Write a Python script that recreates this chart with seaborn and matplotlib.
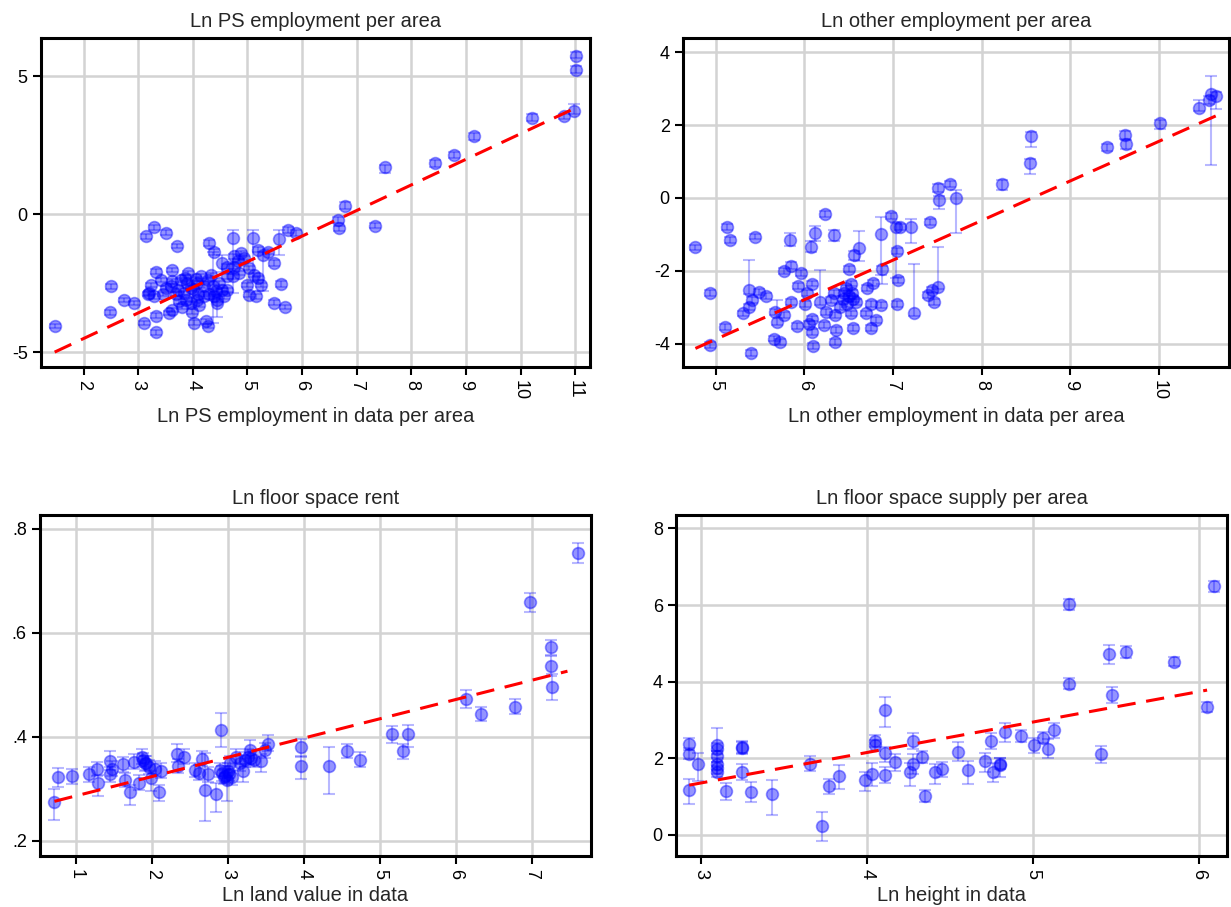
import matplotlib
matplotlib.use("Agg")
import matplotlib.pyplot as plt
import seaborn as sns
import numpy as np

sns.set_style("white")
plt.rcParams['font.family'] = ['Liberation Sans', 'DejaVu Sans']
plt.rcParams['axes.unicode_minus'] = False

# ---------------- Panel 1: Ln PS employment per area ----------------
p1_x = [1.47, 2.51, 2.49, 2.74, 2.92, 3.10, 3.33, 3.32, 3.15, 3.28, 3.51, 3.71, 4.29, 4.39,
        4.74, 5.11, 5.57, 5.74, 5.89, 5.37, 5.48, 5.61, 5.49, 5.68, 6.66, 6.67, 6.79, 7.34,
        7.52, 8.44, 8.78, 9.14, 10.21, 10.80, 10.97, 11.02, 11.02,
        3.33, 3.62, 3.92, 3.23, 3.41, 3.20, 3.29, 3.50, 3.62, 3.78, 3.72, 3.84, 3.96, 4.08,
        4.15, 4.27, 4.36, 4.42, 4.48, 4.54, 4.33, 4.21, 4.08, 3.96, 3.87, 3.75, 3.62, 3.56,
        3.81, 3.99, 4.02, 4.24, 4.27, 4.45, 4.39, 4.57, 4.63,
        4.54, 4.63, 4.76, 4.88, 4.94, 4.82, 4.76, 4.73, 4.63, 4.85, 5.03, 5.12, 5.19, 5.25,
        5.00, 5.03, 5.15, 5.28, 5.19,
        3.90, 4.00, 4.10, 4.20, 3.85, 4.05, 4.30, 4.45, 3.70, 3.60, 4.12, 3.45, 3.18]
p1_y = [-4.06, -2.62, -3.56, -3.11, -3.23, -3.94, -4.29, -3.68, -0.81, -0.48, -0.67, -1.16, -1.05, -1.38,
        -0.87, -0.87, -0.91, -0.57, -0.69, -1.36, -1.78, -2.54, -3.21, -3.36, -0.21, -0.52, 0.30, -0.42,
        1.69, 1.84, 2.14, 2.83, 3.49, 3.54, 3.74, 5.23, 5.74,
        -2.08, -2.02, -2.14, -2.56, -2.38, -2.86, -2.98, -2.68, -2.44, -2.38, -2.74, -2.86, -2.68, -2.50,
        -2.26, -2.38, -2.62, -2.80, -2.50, -2.74, -2.20, -2.98, -3.10, -3.22, -3.10, -3.16, -3.47, -3.59,
        -3.35, -3.53, -3.93, -3.89, -4.05, -3.22, -2.98, -2.98, -2.74,
        -1.78, -1.90, -1.53, -1.41, -1.59, -1.71, -1.90, -2.26, -2.26, -2.14, -1.96, -2.20, -2.32, -2.56,
        -2.56, -2.92, -2.98, -1.47, -1.29,
        -2.50, -2.70, -2.90, -2.60, -2.30, -2.35, -2.90, -3.10, -2.90, -2.60, -3.30, -2.90, -2.90]
p1_lo = [0.08, 0.08, 0.08, 0.08, 0.08, 0.08, 0.08, 0.08, 0.08, 0.08, 0.08, 0.08, 0.10, 0.10,
         2.00, 1.60, 0.56, 0.10, 0.10, 0.10, 0.10, 0.10, 0.08, 0.08, 0.10, 0.10, 0.10, 0.08,
         0.20, 0.12, 0.12, 0.15, 0.12, 0.10, 0.10, 0.10, 0.10,
         0.08, 0.08, 0.08, 0.08, 0.08, 0.08, 0.08, 0.08, 0.08, 0.08, 0.08, 0.08, 0.08, 0.08,
         0.08, 0.08, 1.33, 0.08, 0.08, 0.08, 0.08, 0.08, 0.08, 0.08, 0.08, 0.08, 0.08, 0.08,
         0.08, 0.08, 0.08, 0.08, 0.08, 0.50, 0.08, 0.08, 0.08,
         0.30, 0.08, 0.08, 0.08, 0.08, 0.08, 0.08, 0.08, 0.08, 0.08, 0.08, 0.08, 0.08, 0.08,
         0.08, 0.08, 0.08, 1.30, 0.08,
         0.08, 0.08, 0.08, 0.08, 0.08, 0.08, 0.08, 0.08, 0.08, 0.08, 0.08, 0.08, 0.08]
p1_hi = [0.08, 0.08, 0.08, 0.08, 0.08, 0.08, 0.08, 0.08, 0.08, 0.08, 0.08, 0.08, 0.10, 0.10,
         0.28, 0.30, 0.34, 0.10, 0.10, 0.10, 0.10, 0.10, 0.08, 0.08, 0.10, 0.10, 0.15, 0.08,
         0.10, 0.12, 0.12, 0.12, 0.12, 0.10, 0.25, 0.15, 0.15,
         0.08, 0.08, 0.08, 0.08, 0.08, 0.08, 0.08, 0.08, 0.08, 0.08, 0.08, 0.08, 0.08, 0.08,
         0.08, 0.08, 1.24, 0.08, 0.08, 0.08, 0.08, 0.08, 0.08, 0.08, 0.08, 0.08, 0.08, 0.08,
         0.08, 0.08, 0.08, 0.08, 0.08, 0.30, 0.08, 0.08, 0.08,
         0.30, 0.08, 0.08, 0.08, 0.08, 0.08, 0.08, 0.08, 0.08, 0.08, 0.08, 0.08, 0.08, 0.08,
         0.08, 0.08, 0.08, 0.10, 0.08,
         0.08, 0.08, 0.08, 0.08, 0.08, 0.08, 0.08, 0.08, 0.08, 0.08, 0.08, 0.08, 0.08]
p1_fit_x = [1.47, 11.02]
p1_fit_y = [-5.00, 3.86]

# ---------------- Panel 2: Ln other employment per area ----------------
p2_x = [4.77, 4.94, 4.94, 5.10, 5.13, 5.16, 5.44, 5.40, 5.31, 5.37, 5.38, 5.41, 5.49, 5.57,
        5.67, 5.69, 5.66, 5.72, 5.77, 5.77, 5.85, 5.85, 5.84, 5.92, 5.96, 5.93, 6.03, 6.01,
        6.08, 6.07, 6.12, 6.05, 6.08, 6.10, 6.09, 6.17, 6.23, 6.22, 6.24, 6.33, 6.33, 6.35,
        6.36, 6.35, 6.30, 6.43, 6.47, 6.50, 6.52, 6.54, 6.55, 6.56, 6.62, 6.52, 6.58, 6.69,
        6.71, 6.75, 6.77, 6.75, 6.81, 6.86, 6.88, 6.86, 6.98, 7.03, 7.08, 7.04, 7.05, 7.04,
        7.20, 7.24, 7.42, 7.39, 7.44, 7.51, 7.46, 7.51, 7.52, 7.64, 7.71, 8.23, 8.55, 8.56,
        9.41, 9.62, 9.63, 10.01, 10.45, 10.56, 10.59, 10.64,
        6.45, 6.50, 6.48, 6.40, 6.55]
p2_y = [-1.36, -2.60, -4.04, -3.54, -0.80, -1.15, -1.06, -4.25, -3.17, -2.99, -2.53, -2.80, -2.58, -2.69,
        -3.13, -3.40, -3.86, -3.95, -3.22, -2.00, -1.86, -2.85, -1.15, -3.52, -2.07, -2.42, -2.62, -2.90,
        -2.35, -1.34, -0.97, -3.45, -3.68, -4.07, -3.31, -2.85, -0.45, -3.49, -3.13, -1.02, -2.62, -3.22,
        -3.63, -3.95, -2.80, -2.76, -2.48, -1.96, -2.35, -2.62, -3.56, -1.57, -1.38, -3.17, -2.85, -3.17,
        -2.48, -2.90, -2.33, -3.58, -3.35, -2.94, -1.96, -0.99, -0.49, -0.79, -0.79, -1.45, -2.25, -2.92,
        -0.79, -3.15, -0.65, -2.67, -2.53, -2.44, -2.85, 0.27, -0.06, 0.38, 0.00, 0.38, 0.97, 1.70,
        1.39, 1.73, 1.48, 2.05, 2.48, 2.69, 2.86, 2.80,
        -2.62, -2.70, -2.90, -3.00, -2.78]
p2_lo = [0.08, 0.08, 0.08, 0.08, 0.08, 0.08, 0.08, 0.08, 0.08, 0.08, 0.10, 0.08, 0.08, 0.08,
         0.08, 0.10, 0.08, 0.08, 0.08, 0.08, 0.10, 0.08, 0.18, 0.08, 0.08, 0.08, 0.08, 0.08,
         0.08, 0.15, 0.20, 0.08, 0.08, 0.08, 0.08, 0.10, 0.08, 0.08, 0.08, 0.15, 0.08, 0.08,
         0.08, 0.08, 0.08, 0.08, 0.08, 0.08, 0.08, 0.08, 0.08, 0.12, 0.35, 0.08, 0.08, 0.08,
         0.08, 0.08, 0.08, 0.08, 0.08, 0.08, 0.40, 1.13, 0.08, 1.40, 0.08, 0.08, 0.08, 0.08,
         0.45, 0.10, 0.08, 0.08, 0.08, 0.05, 0.08, 0.10, 0.25, 0.08, 0.96, 0.15, 0.30, 0.30,
         0.10, 0.10, 0.15, 0.15, 0.10, 0.10, 1.95, 0.35,
         0.08, 0.08, 0.08, 0.08, 0.08]
p2_hi = [0.08, 0.08, 0.08, 0.08, 0.08, 0.08, 0.08, 0.08, 0.08, 0.08, 0.84, 0.08, 0.08, 0.08,
         0.08, 0.60, 0.08, 0.08, 0.08, 0.08, 0.10, 0.08, 0.18, 0.08, 0.08, 0.08, 0.08, 0.08,
         0.08, 0.15, 0.20, 0.08, 0.08, 0.08, 0.08, 0.88, 0.08, 0.08, 0.08, 0.15, 0.08, 0.08,
         0.08, 0.08, 0.08, 0.08, 0.08, 0.08, 0.08, 0.08, 0.08, 0.12, 0.48, 0.08, 0.08, 0.08,
         0.08, 0.08, 0.08, 0.08, 0.08, 0.08, 0.10, 0.48, 0.08, 0.10, 0.08, 0.08, 0.08, 0.08,
         0.20, 1.35, 0.08, 0.08, 0.08, 1.10, 0.08, 0.10, 0.10, 0.08, 0.22, 0.10, 0.10, 0.10,
         0.10, 0.10, 0.10, 0.10, 0.20, 0.10, 0.48, 0.10,
         0.08, 0.08, 0.08, 0.08, 0.08]
p2_fit_x = [4.77, 10.64]
p2_fit_y = [-4.13, 2.25]

# ---------------- Panel 3: Ln floor space rent ----------------
p3_x = [0.71, 0.76, 0.94, 1.16, 1.27, 1.28, 1.44, 1.47, 1.44, 1.61, 1.64, 1.70, 1.76, 1.82,
        1.87, 1.90, 1.95, 1.98, 2.03, 2.12, 2.09, 2.32, 2.34, 2.42, 2.56, 2.61, 2.66, 2.69,
        2.74, 2.84, 2.89, 2.91, 2.94, 2.99, 3.01, 3.03, 3.10, 3.16, 3.20, 3.26, 3.29, 3.34,
        3.43, 3.49, 3.53, 3.96, 3.96, 4.33, 4.56, 4.74, 5.16, 5.30, 5.37, 6.13, 6.33, 6.78,
        6.98, 7.25, 7.25, 7.26, 7.61,
        2.92, 2.96, 3.00, 3.05, 1.88, 1.92, 3.30, 3.22]
p3_y = [0.275, 0.322, 0.324, 0.328, 0.338, 0.312, 0.354, 0.339, 0.328, 0.347, 0.317, 0.294, 0.352, 0.312,
        0.362, 0.349, 0.342, 0.320, 0.339, 0.335, 0.293, 0.366, 0.344, 0.362, 0.336, 0.331, 0.358, 0.297,
        0.328, 0.291, 0.336, 0.413, 0.323, 0.317, 0.329, 0.349, 0.362, 0.349, 0.334, 0.362, 0.374, 0.356,
        0.353, 0.374, 0.386, 0.381, 0.344, 0.344, 0.373, 0.356, 0.406, 0.372, 0.406, 0.472, 0.444, 0.458,
        0.658, 0.572, 0.536, 0.496, 0.753,
        0.330, 0.325, 0.335, 0.322, 0.355, 0.350, 0.360, 0.356]
p3_lo = [0.035, 0.018, 0.014, 0.014, 0.014, 0.025, 0.018, 0.014, 0.014, 0.014, 0.014, 0.025, 0.014, 0.014,
         0.014, 0.014, 0.014, 0.025, 0.014, 0.014, 0.017, 0.014, 0.014, 0.014, 0.014, 0.014, 0.014, 0.059,
         0.014, 0.035, 0.014, 0.033, 0.014, 0.040, 0.014, 0.014, 0.014, 0.014, 0.020, 0.014, 0.014, 0.014,
         0.020, 0.014, 0.014, 0.020, 0.025, 0.054, 0.014, 0.014, 0.017, 0.014, 0.025, 0.017, 0.014, 0.014,
         0.018, 0.014, 0.020, 0.026, 0.020,
         0.014, 0.014, 0.014, 0.014, 0.014, 0.014, 0.014, 0.014]
p3_hi = [0.025, 0.018, 0.014, 0.014, 0.014, 0.014, 0.018, 0.014, 0.014, 0.014, 0.014, 0.014, 0.014, 0.014,
         0.014, 0.014, 0.014, 0.014, 0.014, 0.014, 0.014, 0.020, 0.014, 0.014, 0.014, 0.014, 0.014, 0.072,
         0.014, 0.020, 0.014, 0.033, 0.014, 0.014, 0.014, 0.014, 0.014, 0.014, 0.014, 0.014, 0.020, 0.014,
         0.014, 0.014, 0.018, 0.014, 0.020, 0.036, 0.014, 0.014, 0.014, 0.014, 0.017, 0.017, 0.014, 0.014,
         0.018, 0.014, 0.020, 0.025, 0.020,
         0.014, 0.014, 0.014, 0.014, 0.014, 0.014, 0.014, 0.014]
p3_fit_x = [0.71, 7.47]
p3_fit_y = [0.276, 0.526]

# ---------------- Panel 4: Ln floor space supply per area ----------------
p4_x = [2.93, 2.93, 2.93, 2.98, 3.10, 3.10, 3.10, 3.10, 3.10, 3.10, 3.15, 3.25, 3.25, 3.25,
        3.30, 3.43, 3.66, 3.73, 3.77, 3.83, 3.99, 4.03, 4.05, 4.05, 4.11, 4.11, 4.11, 4.17,
        4.26, 4.28, 4.28, 4.33, 4.35, 4.41, 4.45, 4.55, 4.61, 4.71, 4.75, 4.76, 4.80, 4.80,
        4.83, 4.93, 5.01, 5.06, 5.09, 5.13, 5.22, 5.22, 5.41, 5.46, 5.48, 5.56, 5.85, 6.05,
        6.09]
p4_y = [2.37, 2.12, 1.17, 1.86, 2.35, 2.25, 2.05, 1.85, 1.75, 1.65, 1.14, 2.27, 2.30, 1.64,
        1.12, 1.06, 1.86, 0.23, 1.27, 1.54, 1.44, 1.58, 2.45, 2.34, 3.27, 2.15, 1.56, 1.91,
        1.63, 1.85, 2.45, 2.04, 1.01, 1.64, 1.71, 2.17, 1.69, 1.93, 2.45, 1.64, 1.82, 1.86,
        2.68, 2.58, 2.34, 2.54, 2.25, 2.73, 3.95, 6.02, 2.11, 4.72, 3.65, 4.78, 4.52, 3.34,
        6.49]
p4_lo = [0.15, 0.15, 0.37, 0.45, 0.15, 0.15, 0.15, 0.15, 0.15, 0.15, 0.22, 0.15, 0.15, 0.20,
         0.25, 0.54, 0.20, 0.38, 0.20, 0.35, 0.30, 0.30, 0.15, 0.15, 0.45, 0.25, 0.20, 0.25,
         0.35, 0.25, 0.20, 0.15, 0.15, 0.30, 0.20, 0.25, 0.35, 0.30, 0.20, 0.25, 0.30, 0.15,
         0.25, 0.15, 0.20, 0.15, 0.25, 0.20, 0.15, 0.15, 0.22, 0.25, 0.20, 0.15, 0.12, 0.12,
         0.15]
p4_hi = [0.15, 0.15, 0.28, 0.28, 0.45, 0.15, 0.15, 0.15, 0.15, 0.15, 0.22, 0.15, 0.15, 0.20,
         0.25, 0.37, 0.20, 0.38, 0.20, 0.28, 0.20, 0.30, 0.15, 0.15, 0.33, 0.15, 0.20, 0.20,
         0.25, 0.25, 0.20, 0.15, 0.15, 0.20, 0.20, 0.25, 0.25, 0.20, 0.20, 0.25, 0.20, 0.15,
         0.25, 0.15, 0.20, 0.15, 0.25, 0.20, 0.15, 0.15, 0.22, 0.25, 0.20, 0.15, 0.12, 0.12,
         0.15]
p4_fit_x = [2.93, 6.05]
p4_fit_y = [1.30, 3.78]

titles = ["Ln PS employment per area", "Ln other employment per area",
          "Ln floor space rent", "Ln floor space supply per area"]
xlabels = ["Ln PS employment in data per area", "Ln other employment in data per area",
           "Ln land value in data", "Ln height in data"]
p1_xticks = [2, 3, 4, 5, 6, 7, 8, 9, 10, 11]
p1_yticks = [-5, 0, 5]
p2_xticks = [5, 6, 7, 8, 9, 10]
p2_yticks = [-4, -2, 0, 2, 4]
p3_xticks = [1, 2, 3, 4, 5, 6, 7]
p3_yticks = [0.2, 0.4, 0.6, 0.8]
p3_yticklabels = [".2", ".4", ".6", ".8"]
p4_xticks = [3, 4, 5, 6]
p4_yticks = [0, 2, 4, 6, 8]

W, H = 1231, 907
fig = plt.figure(figsize=(W / 100, H / 100), dpi=100)

def box(l, r, t, b):
    return [l / W, 1 - b / H, (r - l) / W, (b - t) / H]

axes_pos = [box(41, 590, 38, 367), box(683, 1229, 38, 367),
            box(40, 591, 515, 856), box(676, 1227, 515, 856)]

panels = [
    (p1_x, p1_y, p1_lo, p1_hi, p1_fit_x, p1_fit_y, (1.22, 11.27), (-5.54, 6.38), p1_xticks, p1_yticks, None),
    (p2_x, p2_y, p2_lo, p2_hi, p2_fit_x, p2_fit_y, (4.63, 10.79), (-4.64, 4.39), p2_xticks, p2_yticks, None),
    (p3_x, p3_y, p3_lo, p3_hi, p3_fit_x, p3_fit_y, (0.52, 7.78), (0.171, 0.826), p3_xticks, p3_yticks, p3_yticklabels),
    (p4_x, p4_y, p4_lo, p4_hi, p4_fit_x, p4_fit_y, (2.85, 6.17), (-0.55, 8.35), p4_xticks, p4_yticks, None),
]

for i, (x, y, lo, hi, fx, fy, xl, yl, xt, yt, ytl) in enumerate(panels):
    ax = fig.add_axes(axes_pos[i])
    ax.set_axisbelow(True)
    ax.grid(True, color="#d3d3d3", linewidth=1.8)
    ax.errorbar(x, y, yerr=[lo, hi], fmt="none", ecolor=(0, 0, 1, 0.28),
                elinewidth=1.5, capsize=4, capthick=1.5, zorder=2)
    sns.scatterplot(x=x, y=y, ax=ax, s=72, color="blue", alpha=0.42,
                    edgecolor="blue", linewidth=1.2, zorder=3, legend=False)
    ax.plot(fx, fy, color="red", linewidth=2.2, dashes=(6, 3.5), zorder=4)
    ax.set_xlim(*xl)
    ax.set_ylim(*yl)
    ax.set_xticks(xt)
    ax.set_yticks(yt)
    if ytl is not None:
        ax.set_yticklabels(ytl)
    ax.tick_params(axis="both", direction="out", length=6, width=1.5, colors="black",
                   labelsize=13, bottom=True, left=True, top=False, right=False)
    ax.tick_params(axis="x", labelrotation=-90)
    for sp in ax.spines.values():
        sp.set_color("black")
        sp.set_linewidth(2.2)
    ax.set_title(titles[i], fontsize=14.5, pad=8)
    ax.set_xlabel(xlabels[i], fontsize=14.5, labelpad=5)
    ax.set_ylabel("")

fig.savefig("out.png", dpi=100)
